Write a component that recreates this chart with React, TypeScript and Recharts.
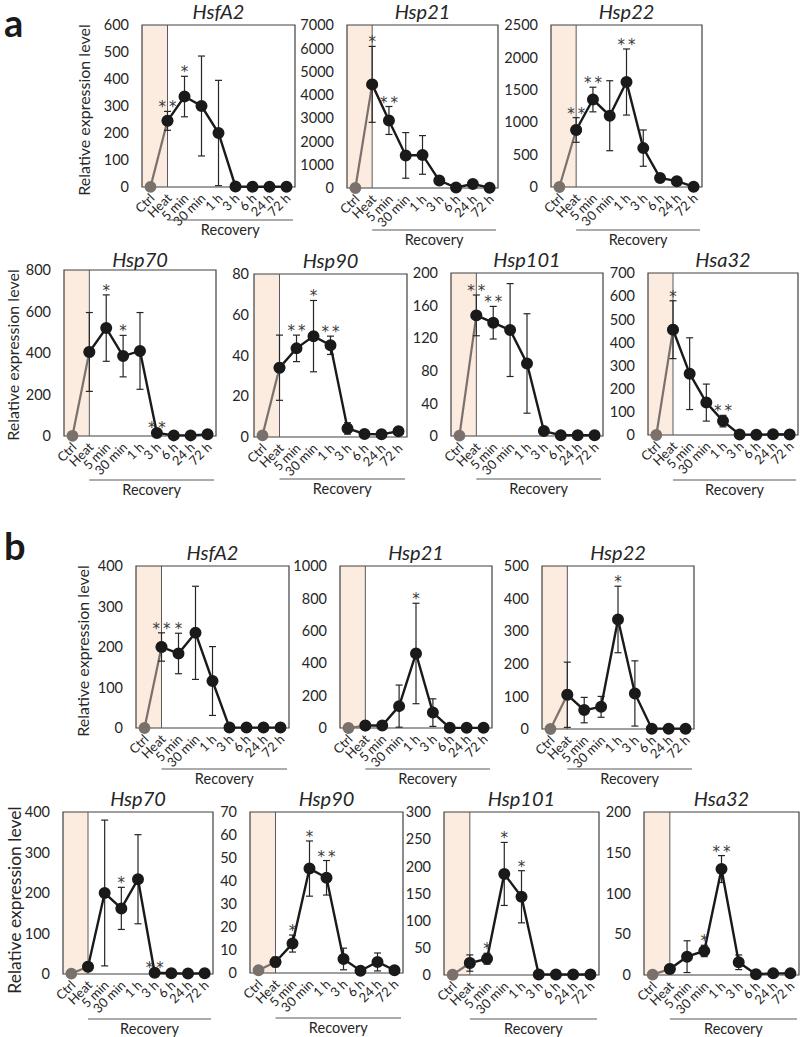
import React from 'react';
import { LineChart, Line, XAxis, YAxis, ErrorBar, ReferenceArea, ReferenceLine } from 'recharts';

const timepoints = ['Ctrl', 'Heat', '5 min', '30 min', '1 h', '3 h', '6 h', '24 h', '72 h'];

// panel a
const aHsfA2Ticks = [0, 100, 200, 300, 400, 500, 600];
const aHsfA2Mean = [0.5, 245, 335, 300, 200, 2, 1, 1, 1];
const aHsfA2Sd = [0, 35, 75, 185, 195, 1, 0, 0, 0];
const aHsfA2Sig = ['', '**', '*', '', '', '', '', '', ''];

const aHsp21Ticks = [0, 1000, 2000, 3000, 4000, 5000, 6000, 7000];
const aHsp21Mean = [0, 4450, 2900, 1400, 1420, 320, 20, 170, 15];
const aHsp21Sd = [0, 1630, 600, 980, 830, 50, 20, 60, 10];
const aHsp21Sig = ['', '*', '**', '', '', '', '', '', ''];

const aHsp22Ticks = [0, 500, 1000, 1500, 2000, 2500];
const aHsp22Mean = [0, 880, 1350, 1100, 1620, 600, 140, 90, 5];
const aHsp22Sd = [0, 190, 190, 540, 510, 280, 60, 55, 5];
const aHsp22Sig = ['', '**', '**', '', '**', '', '', '', ''];

const aHsp70Ticks = [0, 200, 400, 600, 800];
const aHsp70Mean = [1, 405, 520, 385, 410, 15, 3, 3, 8];
const aHsp70Sd = [0, 190, 160, 100, 185, 5, 1, 1, 2];
const aHsp70Sig = ['', '', '*', '*', '', '**', '', '', ''];

const aHsp90Ticks = [0, 20, 40, 60, 80];
const aHsp90Mean = [0.8, 34, 43.5, 49.5, 45, 4.2, 1.5, 1.3, 2.8];
const aHsp90Sd = [0, 16, 6.5, 17.5, 4.5, 2.8, 0.5, 0.5, 0.7];
const aHsp90Sig = ['', '', '**', '*', '**', '', '', '', ''];

const aHsp101Ticks = [0, 40, 80, 120, 160, 200];
const aHsp101Mean = [0.5, 148, 139, 130, 89, 6, 1, 1, 1];
const aHsp101Sd = [0, 25, 20, 57, 61, 2, 0.5, 0.5, 0.5];
const aHsp101Sig = ['', '**', '**', '', '', '', '', '', ''];

const aHsa32Ticks = [0, 100, 200, 300, 400, 500, 600, 700];
const aHsa32Mean = [0, 455, 265, 140, 60, 2, 1, 3, 2];
const aHsa32Sd = [0, 125, 155, 80, 25, 1, 0.5, 1, 1];
const aHsa32Sig = ['', '*', '', '', '**', '', '', '', ''];

// panel b
const bHsfA2Ticks = [0, 100, 200, 300, 400];
const bHsfA2Mean = [0, 200, 184, 235, 116, 1, 1, 1, 1];
const bHsfA2Sd = [0, 35, 50, 115, 85, 0, 0, 0, 0];
const bHsfA2Sig = ['', '**', '*', '', '', '', '', '', ''];

const bHsp21Ticks = [0, 200, 400, 600, 800, 1000];
const bHsp21Mean = [0, 15, 15, 135, 460, 95, 1, 1, 1];
const bHsp21Sd = [0, 5, 5, 130, 310, 85, 0, 0, 0];
const bHsp21Sig = ['', '', '', '', '*', '', '', '', ''];

const bHsp22Ticks = [0, 100, 200, 300, 400, 500];
const bHsp22Mean = [0, 105, 58, 68, 336, 109, 1, 1, 1];
const bHsp22Sd = [0, 100, 39, 32, 102, 100, 0, 0, 0];
const bHsp22Sig = ['', '', '', '', '*', '', '', '', ''];

const bHsp70Ticks = [0, 100, 200, 300, 400];
const bHsp70Mean = [1, 18, 200, 162, 234, 3, 2, 1, 2];
const bHsp70Sd = [0, 3, 180, 52, 110, 1, 0.5, 0.5, 0.5];
const bHsp70Sig = ['', '', '', '*', '', '**', '', '', ''];

const bHsp90Ticks = [0, 10, 20, 30, 40, 50, 60, 70];
const bHsp90Mean = [1.2, 4.8, 12.8, 45.4, 41.4, 6.1, 1, 4.8, 1.2];
const bHsp90Sd = [0, 2.1, 3.7, 12, 7.5, 4.7, 0.3, 3.9, 0.3];
const bHsp90Sig = ['', '', '*', '*', '**', '', '', '', ''];

const bHsp101Ticks = [0, 50, 100, 150, 200, 250, 300];
const bHsp101Mean = [0.5, 22, 30, 186, 144, 1, 1, 1, 1];
const bHsp101Sd = [0, 15, 10, 58, 48, 0, 0, 0, 0];
const bHsp101Sig = ['', '', '*', '*', '*', '', '', '', ''];

const bHsa32Ticks = [0, 50, 100, 150, 200];
const bHsa32Mean = [0.5, 7.4, 22.5, 29.5, 130, 15.6, 1, 2, 2];
const bHsa32Sd = [0, 1, 19.5, 7, 16.5, 9, 0.3, 0.5, 0.5];
const bHsa32Sig = ['', '', '', '*', '**', '', '', '', ''];

const FONT = 'Lato, "Open Sans", sans-serif';
const STAR_FONT = '"DejaVu Sans", sans-serif';
const INK = '#262626';
const PAD_L = 60;
const PAD_T = 14;
const PAD_R = 8;
const PAD_B = 62;

const panels = [
  { title: 'HsfA2', mean: aHsfA2Mean, sd: aHsfA2Sd, sig: aHsfA2Sig, ticks: aHsfA2Ticks, x: 142, top: 25, w: 153, h: 162, recDy: 33 },
  { title: 'Hsp21', mean: aHsp21Mean, sd: aHsp21Sd, sig: aHsp21Sig, ticks: aHsp21Ticks, x: 347, top: 25, w: 151, h: 163, recDy: 42 },
  { title: 'Hsp22', mean: aHsp22Mean, sd: aHsp22Sd, sig: aHsp22Sig, ticks: aHsp22Ticks, x: 551, top: 25, w: 151, h: 162, recDy: 43 },
  { title: 'Hsp70', mean: aHsp70Mean, sd: aHsp70Sd, sig: aHsp70Sig, ticks: aHsp70Ticks, x: 64, top: 270, w: 152, h: 166, recDy: 44, titleDy: 3 },
  { title: 'Hsp90', mean: aHsp90Mean, sd: aHsp90Sd, sig: aHsp90Sig, ticks: aHsp90Ticks, x: 254, top: 274, w: 153, h: 163, recDy: 42, gap: 5 },
  { title: 'Hsp101', mean: aHsp101Mean, sd: aHsp101Sd, sig: aHsp101Sig, ticks: aHsp101Ticks, x: 451, top: 273, w: 152, h: 163, recDy: 43 },
  { title: 'Hsa32', mean: aHsa32Mean, sd: aHsa32Sd, sig: aHsa32Sig, ticks: aHsa32Ticks, x: 648, top: 273, w: 150, h: 162, recDy: 45 },
  { title: 'HsfA2', mean: bHsfA2Mean, sd: bHsfA2Sd, sig: bHsfA2Sig, ticks: bHsfA2Ticks, x: 136, top: 566, w: 153, h: 162, recDy: 41 },
  { title: 'Hsp21', mean: bHsp21Mean, sd: bHsp21Sd, sig: bHsp21Sig, ticks: bHsp21Ticks, x: 340, top: 566, w: 152, h: 162, recDy: 41 },
  { title: 'Hsp22', mean: bHsp22Mean, sd: bHsp22Sd, sig: bHsp22Sig, ticks: bHsp22Ticks, x: 542, top: 566, w: 152, h: 163, recDy: 40 },
  { title: 'Hsp70', mean: bHsp70Mean, sd: bHsp70Sd, sig: bHsp70Sig, ticks: bHsp70Ticks, x: 63, top: 812, w: 150, h: 162, recDy: 45 },
  { title: 'Hsp90', mean: bHsp90Mean, sd: bHsp90Sd, sig: bHsp90Sig, ticks: bHsp90Ticks, x: 250, top: 812, w: 153, h: 161, recDy: 45 },
  { title: 'Hsp101', mean: bHsp101Mean, sd: bHsp101Sd, sig: bHsp101Sig, ticks: bHsp101Ticks, x: 444, top: 812, w: 155, h: 163, recDy: 44 },
  { title: 'Hsa32', mean: bHsa32Mean, sd: bHsa32Sd, sig: bHsa32Sig, ticks: bHsa32Ticks, x: 644, top: 812, w: 155, h: 163, recDy: 44 },
];

const yLabels = [
  { x: 90, y: 110, size: 16 },
  { x: 19, y: 355, size: 16 },
  { x: 89, y: 651, size: 16 },
  { x: 21, y: 900, size: 17.5 },
];

const xTicks = timepoints.map((_, i) => i);

type PanelProps = {
  mean: number[];
  sd: number[];
  sig: string[];
  ticks: number[];
  x: number;
  top: number;
  w: number;
  h: number;
  gap?: number;
};

const Panel = ({ mean, sd, sig, ticks, x, top, w, h, gap = 13 }: PanelProps) => {
  const rows = timepoints.map((label, i) => ({
    i,
    label,
    pre: i <= 1 ? mean[i] : null,
    main: i >= 1 ? mean[i] : null,
    err: sd[i],
    top: mean[i] + sd[i],
    star: sig[i],
  }));
  const yMax = ticks[ticks.length - 1];
  const bottom = PAD_T + h;

  const XTick = (p: any) => (
    <text
      transform={`translate(${p.x + 5},${bottom + 12}) rotate(-45)`}
      textAnchor="end"
      fontSize={13}
      fill={INK}
      fontFamily={FONT}
    >
      {timepoints[p.payload.value]}
    </text>
  );

  const YTick = (p: any) => (
    <text x={PAD_L - gap} y={p.y} dy="0.36em" textAnchor="end" fontSize={14.5} fill={INK} fontFamily={FONT}>
      {p.payload.value}
    </text>
  );

  // significance marks sit just above the top of the error bar
  const Star = (p: any) => {
    const s = p.payload && p.payload.star;
    if (!s) return <g key={p.key} />;
    return (
      <text key={p.key} x={p.cx} y={p.cy + 1} textAnchor="middle" fontSize={15} fill="#3a3a3a" fontFamily={STAR_FONT}>
        {s.split('').join('\u2009')}
      </text>
    );
  };

  return (
    <div style={{ position: 'absolute', left: x - PAD_L, top: top - PAD_T }}>
      <LineChart
        width={PAD_L + w + PAD_R}
        height={PAD_T + h + PAD_B}
        data={rows}
        margin={{ top: PAD_T, right: PAD_R, bottom: 0, left: 0 }}
      >
        <XAxis
          dataKey="i"
          type="number"
          domain={[-0.5, 8.5]}
          ticks={xTicks}
          interval={0}
          axisLine={false}
          tickLine={false}
          height={PAD_B}
          tick={XTick}
        />
        <YAxis
          type="number"
          domain={[0, yMax]}
          ticks={ticks}
          interval={0}
          width={PAD_L}
          axisLine={false}
          tickLine={false}
          tick={YTick}
        />
        <ReferenceArea x1={-0.5} x2={1} y1={0} y2={yMax} fill="#fcebdf" fillOpacity={1} stroke="none" />
        <ReferenceLine x={1} stroke="#5a5a5a" strokeWidth={1} />
        <ReferenceArea x1={-0.5} x2={8.5} y1={0} y2={yMax} fill="none" stroke="#404040" strokeWidth={1.2} />
        <Line
          dataKey="pre"
          stroke="#7a716c"
          strokeWidth={2.2}
          dot={{ r: 4.8, fill: '#7a716c', stroke: '#7a716c' }}
          activeDot={false}
          isAnimationActive={false}
        />
        <Line
          dataKey="main"
          stroke="#1a1a1a"
          strokeWidth={2.4}
          dot={{ r: 4.8, fill: '#1a1a1a', stroke: '#1a1a1a' }}
          activeDot={false}
          isAnimationActive={false}
        >
          <ErrorBar dataKey="err" width={3.5} stroke={INK} strokeWidth={1.2} direction="y" />
        </Line>
        <Line dataKey="top" stroke="none" dot={Star} activeDot={false} isAnimationActive={false} />
      </LineChart>
    </div>
  );
};

const Annotations = () => (
  <svg
    width={800}
    height={1037}
    style={{ position: 'absolute', left: 0, top: 0, pointerEvents: 'none' }}
    fontFamily={FONT}
  >
    <text x={4} y={37} fontSize={38} fontWeight="bold" fill="#1a1a1a">a</text>
    <text x={4} y={560} fontSize={38} fontWeight="bold" fill="#1a1a1a">b</text>
    {panels.map((p, k) => {
      const heatX = p.x + (1.5 * p.w) / 9;
      const lineY = p.top + p.h + p.recDy;
      const x2 = p.x + p.w - 2;
      return (
        <g key={k}>
          <text
            x={p.x + p.w / 2}
            y={p.top - 6 + ((p as any).titleDy || 0)}
            textAnchor="middle"
            fontSize={20}
            fontStyle="italic"
            fill={INK}
          >
            {p.title}
          </text>
          <line x1={heatX} x2={x2} y1={lineY} y2={lineY} stroke="#595959" strokeWidth={1} />
          <text x={(heatX + x2) / 2} y={lineY + 15} textAnchor="middle" fontSize={14.5} fill={INK}>
            Recovery
          </text>
        </g>
      );
    })}
    {yLabels.map((l, k) => (
      <text
        key={k}
        transform={`translate(${l.x},${l.y}) rotate(-90)`}
        textAnchor="middle"
        fontSize={l.size}
        fill={INK}
      >
        Relative expression level
      </text>
    ))}
  </svg>
);

export default function App() {
  return (
    <div
      style={{
        position: 'absolute',
        left: 0,
        top: 0,
        width: 800,
        height: 1037,
        overflow: 'hidden',
        background: '#fff',
      }}
    >
      {panels.map((p, k) => (
        <Panel key={k} {...p} />
      ))}
      <Annotations />
    </div>
  );
}
